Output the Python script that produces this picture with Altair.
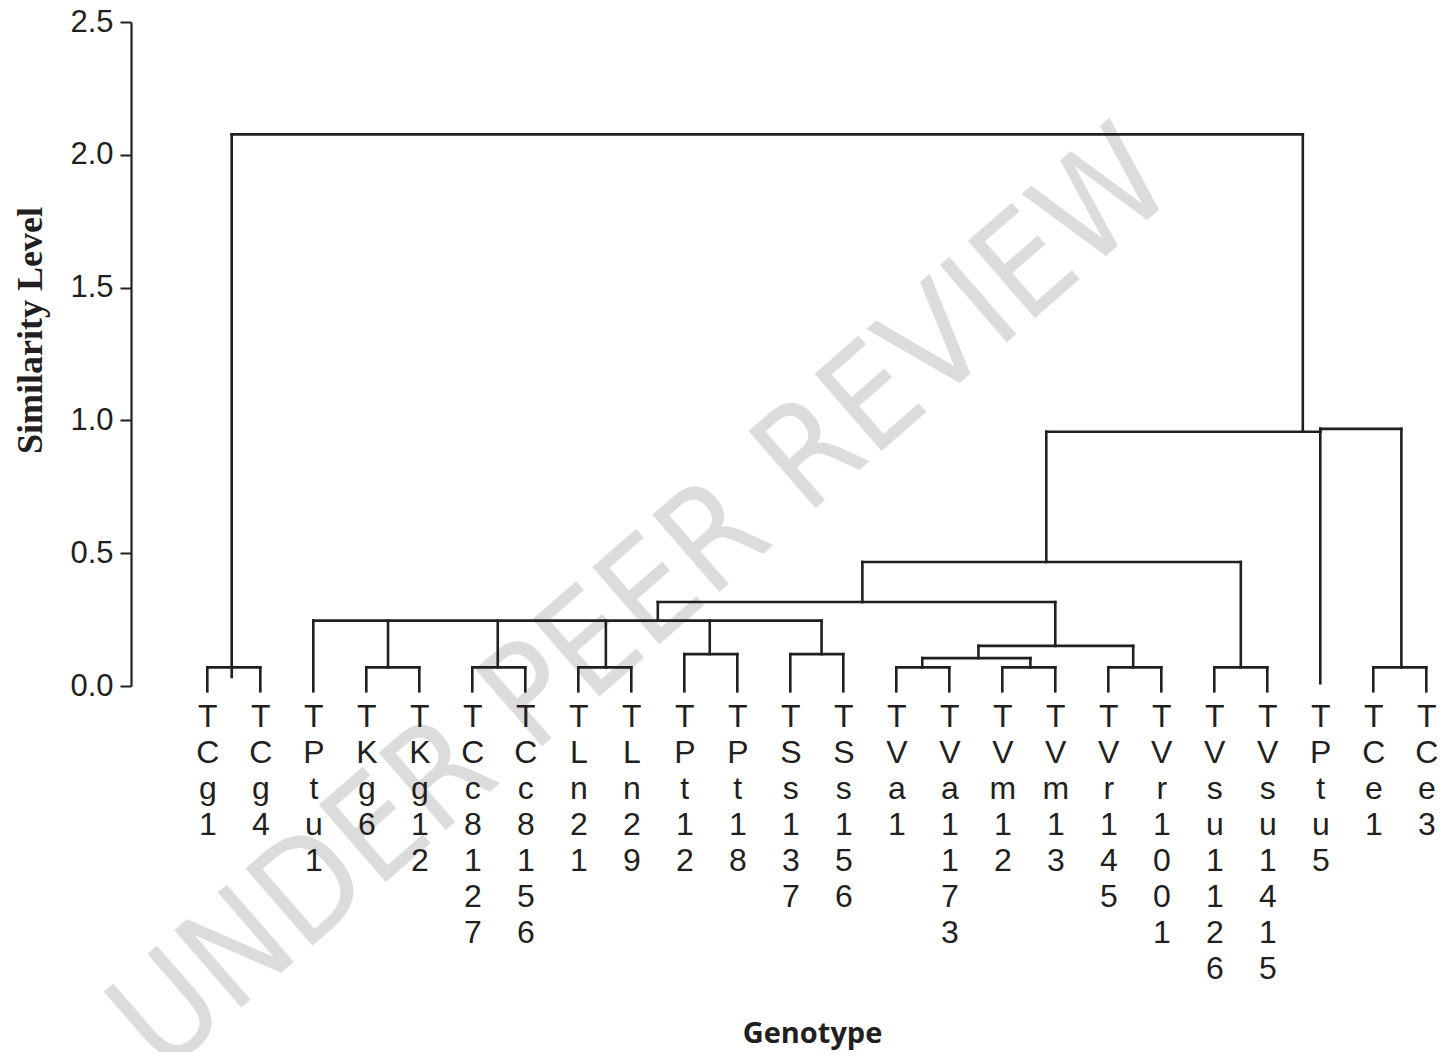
import altair as alt
import pandas as pd

# ---------------- data ----------------
leaf_names = ["TCg1", "TCg4", "TPtu1", "TKg6", "TKg12", "TCc8127", "TCc8156",
              "TLn21", "TLn29", "TPt12", "TPt18", "TSs137", "TSs156", "TVa1",
              "TVa1173", "TVm12", "TVm13", "TVr145", "TVr1001", "TVsu1126",
              "TVsu1415", "TPtu5", "TCe1", "TCe3"]
# level at which each leaf line starts
leaf_base = [-0.02, -0.02, -0.02, -0.02, -0.02, -0.02, -0.02, -0.02,
             -0.02, -0.02, -0.02, -0.02, -0.02, -0.02, -0.02, -0.02,
             -0.02, -0.02, -0.02, -0.02, -0.02, 0.011, -0.02, -0.02]

cluster_ids = ["Cg", "Kg", "Cc", "Ln", "Pt", "Ss", "A", "Va", "Vm", "VaVm",
               "Vr", "V", "B", "Vsu", "C", "Ce", "PtuCe", "D", "Root"]
cluster_children = [
    ["TCg1", "TCg4"], ["TKg6", "TKg12"], ["TCc8127", "TCc8156"],
    ["TLn21", "TLn29"], ["TPt12", "TPt18"], ["TSs137", "TSs156"],
    ["TPtu1", "Kg", "Cc", "Ln", "Pt", "Ss"],
    ["TVa1", "TVa1173"], ["TVm12", "TVm13"], ["Va", "Vm"],
    ["TVr145", "TVr1001"], ["VaVm", "Vr"], ["A", "V"],
    ["TVsu1126", "TVsu1415"], ["B", "Vsu"], ["TCe1", "TCe3"],
    ["TPtu5", "Ce"], ["C", "PtuCe"], ["Cg", "D"],
]
cluster_heights = [0.07, 0.07, 0.07, 0.07, 0.12, 0.12, 0.246, 0.07, 0.07, 0.105,
                   0.07, 0.151, 0.316, 0.07, 0.467, 0.07, 0.968, 0.957, 2.077]
# link position of each cluster, in leaf-index units
cluster_link = [0.46, 3.41, 5.48, 7.52, 9.48, 11.59, 8.5, 13.49, 15.53, 14.55,
                17.47, 16.0, 12.36, 19.5, 15.83, 22.53, 21.0, 20.67, 10.0]
# stems that start below their cluster's own level
stem_start = {"Cg": 0.034}

y_ticks = [0.0, 0.5, 1.0, 1.5, 2.0, 2.5]
watermark = "UNDER PEER REVIEW"

# ---------------- build segments ----------------
pos = {n: i for i, n in enumerate(leaf_names)}
base = dict(zip(leaf_names, leaf_base))
level = {}
for cid, h, p in zip(cluster_ids, cluster_heights, cluster_link):
    pos[cid] = p
    level[cid] = h

rows = []
for cid, ch, h in zip(cluster_ids, cluster_children, cluster_heights):
    xs = [pos[c] for c in ch]
    rows.append({"x": min(xs), "x2": max(xs), "y": h, "y2": h})
    for c in ch:
        lo = base[c] if c in base else stem_start.get(c, level[c])
        rows.append({"x": pos[c], "x2": pos[c], "y": lo, "y2": h})
seg = pd.DataFrame(rows)

ink = "#231f20"
names_js = "[" + ",".join("'" + n + "'" for n in leaf_names) + "]"

x_axis = alt.Axis(
    values=list(range(len(leaf_names))),
    labelExpr="split(" + names_js + "[datum.value], '')",
    labelFont="Liberation Sans", labelFontSize=32, labelLineHeight=36,
    labelColor=ink, labelPadding=15, labelAlign="center", labelBaseline="top",
    labelOverlap=False, labelFlush=False,
    ticks=False, tickSize=0, domain=False, grid=False,
    title="Genotype", titleFont="Open Sans", titleFontWeight="bold",
    titleFontSize=29, titleColor=ink, titleX=681, titleY=356,
    titleAlign="center", titleBaseline="alphabetic", zindex=1,
)
y_axis = alt.Axis(
    values=y_ticks, format=".1f",
    labelFont="Liberation Sans", labelFontSize=31, labelColor=ink, labelPadding=7,
    tickSize=11, tickWidth=2, tickColor=ink,
    domainColor=ink, domainWidth=2.2, grid=False,
    title="Similarity Level", titleFont="Liberation Serif", titleFontWeight="bold",
    titleFontSize=36, titleColor=ink, titleAngle=270, titleX=-90, titleY=308,
    titleAlign="center", titleBaseline="alphabetic", zindex=1,
)

lines = alt.Chart(seg).mark_rule(color=ink, strokeWidth=2.6, strokeCap="square").encode(
    x=alt.X("x:Q", scale=alt.Scale(domain=[-1.44, 23.221], nice=False, zero=False), axis=x_axis),
    x2="x2:Q",
    y=alt.Y("y:Q", scale=alt.Scale(domain=[0, 2.5], nice=False, zero=False), axis=y_axis),
    y2="y2:Q",
)

wm = alt.Chart(pd.DataFrame({"t": [watermark]})).mark_text(
    angle=319, align="center", baseline="alphabetic",
    font="Liberation Sans Narrow, DejaVu Sans Condensed, sans-serif",
    fontSize=140, color="#dcdcdc",
).encode(x=alt.value(540), y=alt.value(612), text="t:N")

chart = alt.layer(wm, lines).properties(
    width=1307, height=664,
    autosize=alt.AutoSizeParams(type="none"),
    padding={"left": 123, "top": 14, "right": 2, "bottom": 366},
    background="white",
).configure_view(stroke=None)

chart.save("out.html", embed_options={"renderer": "svg", "actions": False})
